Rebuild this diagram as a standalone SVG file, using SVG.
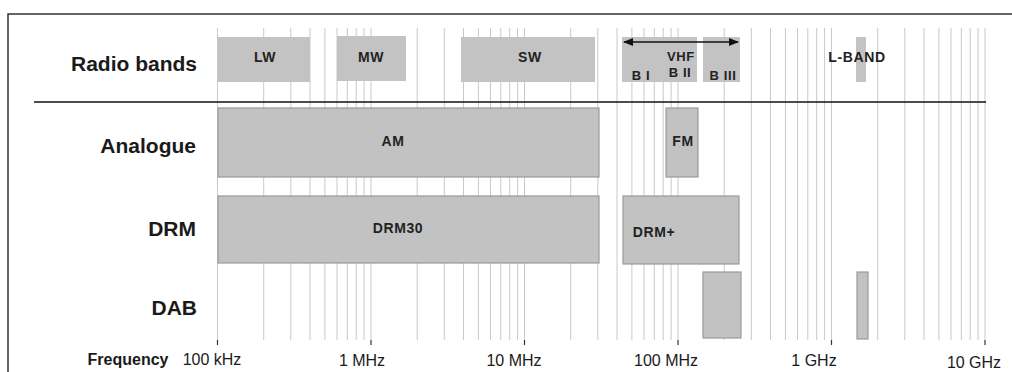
<svg xmlns="http://www.w3.org/2000/svg" width="1012" height="372" viewBox="0 0 1012 372">
<style>
.grid line{stroke:#c9c9c9;stroke-width:1}
.tick line{stroke:#333;stroke-width:1.2}
.band{fill:#c3c3c3}
.box{fill:#c2c2c2;stroke:#9a9a9a;stroke-width:1.2}
.row{font-family:"Liberation Sans",Arial,sans-serif;font-weight:bold;font-size:21px;fill:#1a1a1a;text-anchor:end}
.lbl{font-family:"Liberation Sans",Arial,sans-serif;font-weight:bold;font-size:14px;fill:#222;letter-spacing:0.6px;text-anchor:middle}
.vl{font-size:13px}
.ax{font-family:"Liberation Sans",Arial,sans-serif;font-size:16px;fill:#1a1a1a;text-anchor:middle}
</style>
<defs>
<marker id="ah" markerWidth="10" markerHeight="8" refX="9" refY="4" orient="auto-start-reverse" markerUnits="userSpaceOnUse">
<path d="M0,0 L10,4 L0,8 Z" fill="#111"/>
</marker>
</defs>
<rect x="0" y="0" width="1012" height="372" fill="#fff"/>
<path d="M8,372 L8,14 L1012,14" fill="none" stroke="#333" stroke-width="1.5"/>
<g class="grid">
<line x1="217.5" y1="28" x2="217.5" y2="340"/><line x1="263.7" y1="28" x2="263.7" y2="340"/><line x1="290.8" y1="28" x2="290.8" y2="340"/><line x1="310" y1="28" x2="310" y2="340"/><line x1="324.9" y1="28" x2="324.9" y2="340"/><line x1="337" y1="28" x2="337" y2="340"/><line x1="347.3" y1="28" x2="347.3" y2="340"/><line x1="356.2" y1="28" x2="356.2" y2="340"/><line x1="364.1" y1="28" x2="364.1" y2="340"/>
<line x1="371" y1="28" x2="371" y2="340"/><line x1="417.2" y1="28" x2="417.2" y2="340"/><line x1="444.3" y1="28" x2="444.3" y2="340"/><line x1="463.5" y1="28" x2="463.5" y2="340"/><line x1="478.4" y1="28" x2="478.4" y2="340"/><line x1="490.5" y1="28" x2="490.5" y2="340"/><line x1="500.8" y1="28" x2="500.8" y2="340"/><line x1="509.7" y1="28" x2="509.7" y2="340"/><line x1="517.6" y1="28" x2="517.6" y2="340"/>
<line x1="524.5" y1="28" x2="524.5" y2="340"/><line x1="570.7" y1="28" x2="570.7" y2="340"/><line x1="597.8" y1="28" x2="597.8" y2="340"/><line x1="617" y1="28" x2="617" y2="340"/><line x1="631.9" y1="28" x2="631.9" y2="340"/><line x1="644" y1="28" x2="644" y2="340"/><line x1="654.3" y1="28" x2="654.3" y2="340"/><line x1="663.2" y1="28" x2="663.2" y2="340"/><line x1="671.1" y1="28" x2="671.1" y2="340"/>
<line x1="678" y1="28" x2="678" y2="340"/><line x1="724.2" y1="28" x2="724.2" y2="340"/><line x1="751.3" y1="28" x2="751.3" y2="340"/><line x1="770.5" y1="28" x2="770.5" y2="340"/><line x1="785.4" y1="28" x2="785.4" y2="340"/><line x1="797.5" y1="28" x2="797.5" y2="340"/><line x1="807.8" y1="28" x2="807.8" y2="340"/><line x1="816.7" y1="28" x2="816.7" y2="340"/><line x1="824.6" y1="28" x2="824.6" y2="340"/>
<line x1="831.5" y1="28" x2="831.5" y2="340"/><line x1="877.7" y1="28" x2="877.7" y2="340"/><line x1="904.8" y1="28" x2="904.8" y2="340"/><line x1="924" y1="28" x2="924" y2="340"/><line x1="938.9" y1="28" x2="938.9" y2="340"/><line x1="951" y1="28" x2="951" y2="340"/><line x1="961.3" y1="28" x2="961.3" y2="340"/><line x1="970.2" y1="28" x2="970.2" y2="340"/><line x1="978.1" y1="28" x2="978.1" y2="340"/>
<line x1="985" y1="28" x2="985" y2="340"/>
</g>
<g class="tick">
<line x1="217.5" y1="340" x2="217.5" y2="345"/><line x1="371" y1="340" x2="371" y2="345"/><line x1="524.5" y1="340" x2="524.5" y2="345"/><line x1="678" y1="340" x2="678" y2="345"/><line x1="831.5" y1="340" x2="831.5" y2="345"/><line x1="985" y1="340" x2="985" y2="345"/>
</g>
<line x1="34" y1="102" x2="986" y2="102" stroke="#111" stroke-width="1.5"/>
<g id="row-labels">
<text class="row" x="197" y="71">Radio bands</text>
<text class="row" x="196" y="153">Analogue</text>
<text class="row" x="196" y="236">DRM</text>
<text class="row" x="197" y="315">DAB</text>
</g>
<g id="band-lw"><rect class="band" x="218" y="37" width="92" height="45"/><text class="lbl" x="265" y="62">LW</text></g>
<g id="band-mw"><rect class="band" x="337" y="36" width="69" height="45"/><text class="lbl" x="371" y="62">MW</text></g>
<g id="band-sw"><rect class="band" x="461" y="37" width="134" height="45"/><text class="lbl" x="530" y="62">SW</text></g>
<g id="band-vhf">
<rect class="band" x="622" y="37" width="75" height="45"/>
<rect class="band" x="703" y="37" width="37" height="45"/>
<text class="lbl vl" x="681" y="61">VHF</text>
<text class="lbl vl" x="641" y="80">B I</text>
<text class="lbl vl" x="680" y="77">B II</text>
<text class="lbl vl" x="723" y="80">B III</text>
</g>
<g id="band-lband"><rect class="band" x="856" y="37" width="10" height="45"/><text class="lbl" x="857" y="62">L-BAND</text></g>
<g id="am"><rect class="box" x="218" y="108" width="381" height="69"/><text class="lbl" x="393" y="146">AM</text></g>
<g id="fm"><rect class="box" x="666" y="108" width="32" height="69"/><text class="lbl" x="683" y="146">FM</text></g>
<g id="drm30"><rect class="box" x="218" y="196" width="381" height="67"/><text class="lbl" x="398" y="233">DRM30</text></g>
<g id="drmplus"><rect class="box" x="623" y="196" width="116" height="68"/><text class="lbl" x="654" y="237">DRM+</text></g>
<g id="dab-b3"><rect class="box" x="703" y="272" width="38" height="66"/></g>
<g id="dab-l"><rect class="box" x="857" y="272" width="11" height="67"/></g>
<g id="connectors">
<line x1="624" y1="42" x2="738" y2="42" stroke="#111" stroke-width="1.5" marker-start="url(#ah)" marker-end="url(#ah)"/>
</g>
<g id="axis">
<text class="ax" x="128" y="365" style="font-weight:bold">Frequency</text>
<text class="ax" x="212" y="365">100 kHz</text>
<text class="ax" x="362" y="366">1 MHz</text>
<text class="ax" x="514" y="366">10 MHz</text>
<text class="ax" x="666" y="366">100 MHz</text>
<text class="ax" x="814" y="366">1 GHz</text>
<text class="ax" x="974" y="368">10 GHz</text>
</g>
</svg>
